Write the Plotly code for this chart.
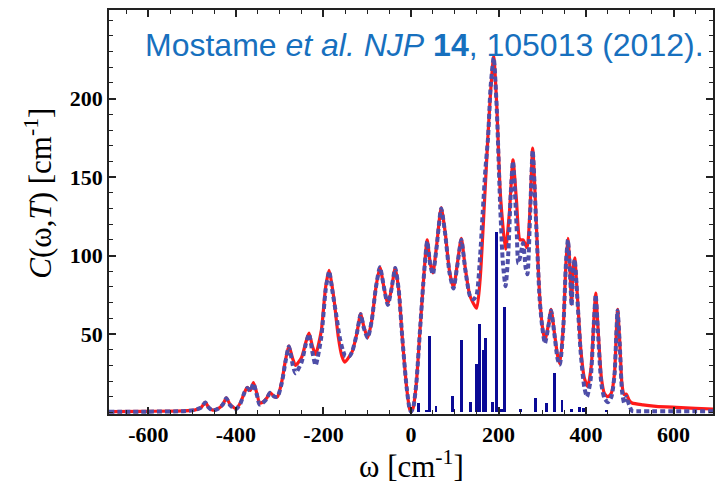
import plotly.graph_objects as go

# ---------------- data ----------------
red_x = [-690, -600, -520, -495, -480, -470, -462, -453, -440, -430, -422, -413, -400, -390,
         -380, -374, -367, -360, -352, -346, -339, -330, -322, -312, -305, -295, -287, -279,
         -270, -264, -250, -240, -233, -225, -218, -205, -195, -187, -180, -175, -166, -158,
         -151, -140, -134, -124, -115, -108, -99, -90, -80, -71, -62, -53, -45, -36, -28,
         -20, -10, -3, 0, 5, 12, 20, 28, 37, 44, 50, 58, 69, 78, 88, 97, 106, 115, 124,
         135, 150, 158, 168, 175, 182, 189, 196, 204, 216, 225, 233, 241, 249, 256, 265,
         272, 278, 286, 294, 300, 306, 314, 320, 328, 335, 340, 348, 354, 358.5, 362, 367,
         370, 374, 380, 388, 396, 404, 412, 418, 422, 427, 435, 442, 450, 458, 465, 469,
         472, 477, 482, 487, 492, 498, 505, 530, 560, 606, 650, 690]
red_y = [0.5, 0.7, 1.0, 1.5, 3.0, 6.4, 3.0, 1.5, 2.5, 5.0, 9.3, 5.0, 2.5, 6.0,
         13.0, 16.0, 14.0, 19.0, 12.0, 6.0, 6.5, 9.0, 12.7, 10.0, 10.0, 20.0, 33.0, 42.5,
         34.0, 30.0, 35.0, 45.0, 50.5, 42.0, 37.0, 52.0, 80.0, 90.5, 80.0, 70.0, 48.0, 36.0,
         32.0, 36.0, 39.0, 50.0, 63.0, 55.0, 47.7, 58.0, 80.0, 92.5, 80.0, 69.0, 78.0, 92.2, 78.0,
         48.0, 16.0, 2.0, 0.5, 3.0, 18.0, 50.0, 82.0, 110.0, 95.0, 89.0, 105.0, 130.5, 115.0,
         90.0, 79.5, 95.0, 111.0, 92.0,
         74.0, 66.5, 85.0, 135.0, 172.0, 205.0, 227.0, 195.0, 140.0, 104.0, 128.0, 161.0,
         135.0, 110.0, 110.0, 105.0,
         130.0, 168.5, 122.0, 74.0, 55.0, 45.5, 56.0, 65.7, 50.0, 36.0, 31.0, 55.0, 95.0,
         111.0, 98.0, 69.0,
         90.0, 98.5, 75.0, 40.0, 22.0, 16.5, 30.0, 60.0, 76.0, 55.0, 22.0, 12.0, 10.0,
         12.5, 25.0, 50.0, 65.7, 45.0, 18.0, 11.5, 11.7, 8.0, 6.0, 4.8, 3.9, 3.2, 2.6, 2.2]

blue_x = [-690, -600, -520, -495, -480, -470, -462, -453, -440, -430, -422, -413, -400, -390,
          -380, -374, -367, -360, -352, -346, -339, -330, -322, -312, -305, -295, -287, -279,
          -270, -264, -250, -240, -233, -225, -218, -205, -195, -187, -180, -171, -163, -156,
          -150, -140, -134, -124, -115, -108, -99, -90, -80, -71, -62, -53, -45, -36, -28,
          -20, -10, -3, 0, 5, 12, 20, 28, 37, 44, 50, 58, 69, 78, 88, 97, 106, 115, 124,
          135, 143, 150, 158, 164, 170, 176, 182, 189, 196, 204, 210, 216, 222, 228, 233,
          241, 245, 250, 256, 262, 266, 272, 278, 286, 294, 300, 306, 314, 320, 328, 335,
          340, 348, 354, 358.5, 362, 367, 370, 374, 380, 388, 396, 402, 410, 418, 422, 427,
          435, 442, 450, 458, 465, 469, 472, 477, 482, 487, 492, 498, 505, 520, 560, 606,
          650, 690]
blue_y = [0.4, 0.5, 0.8, 1.5, 3.0, 6.4, 3.0, 1.2, 2.5, 5.0, 9.0, 4.5, 2.0, 5.5,
          13.0, 15.5, 13.5, 18.5, 11.0, 5.0, 6.0, 8.5, 12.5, 10.0, 10.0, 19.0, 32.0, 42.0,
          30.0, 25.0, 32.0, 44.0, 50.0, 38.0, 30.0, 48.0, 78.0, 90.0, 78.0, 62.5, 48.0, 40.0,
          36.0, 36.0, 39.0, 50.0, 62.5, 54.0, 47.5, 58.0, 80.0, 92.5, 80.0, 68.5, 78.0, 92.0, 78.0,
          48.0, 16.0, 2.0, 0.5, 3.0, 18.0, 50.0, 82.0, 109.0, 94.0, 88.0, 104.0, 130.0, 114.0,
          89.0, 79.0, 94.0, 110.0, 91.0,
          74.0, 72.0, 75.0, 100.0, 128.0, 155.0, 175.0, 208.0, 226.0, 193.0, 130.0, 95.0, 80.5,
          100.0, 140.0, 160.0,
          120.0, 95.0, 100.0, 108.0, 92.0, 88.0, 125.0, 167.0, 120.0, 72.0, 54.0, 44.0, 55.0,
          65.0, 49.0, 34.0,
          30.5, 54.0, 95.0, 110.0, 97.0, 68.0, 89.0, 97.5, 73.0, 37.0, 16.0, 10.0, 20.0, 58.0,
          75.0, 52.0,
          18.0, 9.0, 6.5, 10.0, 24.0, 49.0, 65.0, 43.0, 14.0, 6.0, 10.0, 5.0, 1.0, 0.8, 0.8, 0.8,
          0.8, 0.8]

bar_x = [18, 36, 42, 57, 94, 98, 115, 136, 150, 157, 165, 171, 187, 196, 206, 214, 250,
         284, 309, 328, 345, 366, 385, 394, 446]
bar_y = [5.7, 1.5, 49, 3.8, 10.2, 2.5, 46, 6.4, 31, 56.6, 40, 47.3, 6.4, 115, 2, 67, 2.5,
         9.1, 5.7, 25.4, 8, 2, 3.5, 3, 1.5]

x_tickvals = [-600, -400, -200, 0, 200, 400, 600]
x_ticktext = ["-600", "-400", "-200", "0", "200", "400", "600"]
y_tickvals = [50, 100, 150, 200]
y_ticktext = ["50", "100", "150", "200"]

# ---------------- figure ----------------
fig = go.Figure()
fig.add_trace(go.Bar(x=bar_x, y=bar_y, width=6.5, marker=dict(color="#0A0A96", line=dict(width=0)),
                     showlegend=False))
fig.add_trace(go.Scatter(x=red_x, y=red_y, mode="lines",
                         line=dict(color="#FF1A1A", width=3.2, shape="spline", smoothing=0.6),
                         showlegend=False))
fig.add_trace(go.Scatter(x=blue_x, y=blue_y, mode="lines",
                         line=dict(color="#4E4EA8", width=4, dash="5px,3px", shape="spline", smoothing=0.6),
                         showlegend=False))

tickfont = dict(family="Liberation Serif", size=22, color="black", weight="bold")
axis_common = dict(showline=True, linecolor="#222222", linewidth=1.5, mirror="ticks",
                   ticks="inside", ticklen=7, tickwidth=1.5, tickcolor="#222222",
                   showgrid=False, zeroline=False, tickfont=tickfont)

fig.update_xaxes(range=[-690, 690], tickmode="array", tickvals=x_tickvals, ticktext=x_ticktext,
                 minor=dict(dtick=50, tick0=0, ticks="inside", ticklen=4, tickcolor="#222222", tickwidth=1.2),
                 **axis_common)
fig.update_yaxes(range=[-1, 256.5], tickmode="array", tickvals=y_tickvals, ticktext=y_ticktext,
                 minor=dict(dtick=10, tick0=0, ticks="inside", ticklen=4, tickcolor="#222222", tickwidth=1.2),
                 **axis_common)

fig.update_layout(
    width=723, height=488,
    margin=dict(l=109, r=10, t=8, b=74),
    plot_bgcolor="white", paper_bgcolor="white",
    bargap=0,
    annotations=[
        dict(text="Mostame <i>et al. NJP</i> <b>14</b>, 105013 (2012).", xref="paper", yref="paper",
             x=0.988, y=0.914, xanchor="right", yanchor="middle", showarrow=False,
             font=dict(family="Liberation Sans", size=32, color="#1770BE")),
        dict(text="ω [cm<sup>-1</sup>]", xref="paper", yref="paper", x=0.5, y=-0.125,
             xanchor="center", yanchor="middle", showarrow=False,
             font=dict(family="Liberation Serif", size=31, color="black")),
        dict(text="<i>C</i>(ω,<i>T</i>) [cm<sup>-1</sup>]", xref="paper", yref="paper",
             x=-0.118, y=0.547, xanchor="center", yanchor="middle", textangle=-90, showarrow=False,
             font=dict(family="Liberation Serif", size=31, color="black")),
    ],
)

fig.write_html("out.html")
